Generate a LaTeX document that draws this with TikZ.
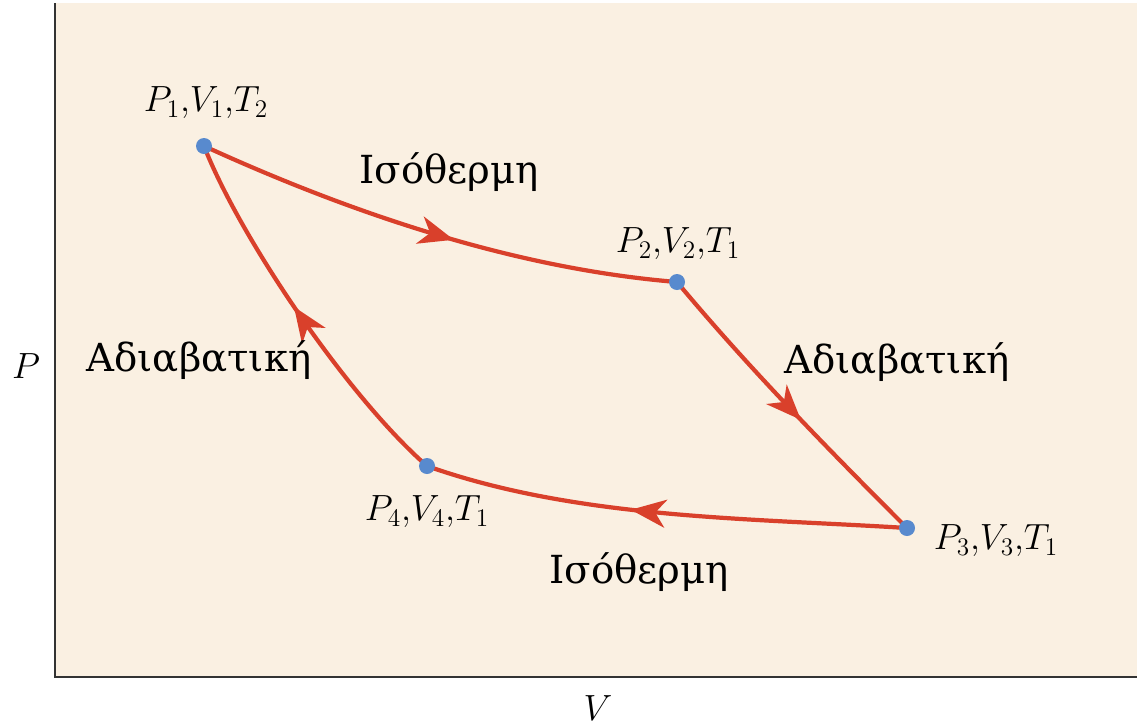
\documentclass[tikz,border=0pt]{standalone}
\usepackage{fontspec}
\setmainfont{DejaVu Serif}
\usetikzlibrary{arrows.meta, decorations.markings}
\definecolor{cyclered}{RGB}{217,64,43}
\definecolor{stateblue}{RGB}{88,138,206}
\definecolor{paper}{RGB}{250,240,226}

\begin{document}
\begin{tikzpicture}[x=0.02cm, y=-0.02cm,
  state/.style={circle, fill=stateblue, inner sep=0pt, minimum size=0.32cm},
  proc/.style={cyclered, line width=2.4pt, postaction={decorate},
    decoration={markings, mark=at position #1 with {\arrow{Stealth[length=20pt,width=16pt,inset=6pt]}}}},
  axis/.style={black!80, line width=1.6pt},
  statelbl/.style={font=\fontsize{22}{26}\selectfont},
  proclbl/.style={font=\fontsize{22}{26}\selectfont},
]
  \useasboundingbox (0,0) rectangle (1145,725);

  % diagram area and axes
  \coordinate (top) at (55,3);
  \coordinate (orig) at (55,677);
  \coordinate (right) at (1137,677);
  \fill[paper] (top) rectangle (right);
  \draw[axis] (top) -- (orig) -- (right);
  \node[statelbl] (plbl) at (26,366) {$P$};
  \node[statelbl] (vlbl) at (598,708) {$V$};

  % the four states
  \coordinate (p1) at (204,146);
  \coordinate (p2) at (677,282);
  \coordinate (p3) at (907,528);
  \coordinate (p4) at (427,466);

  % the cycle
  \draw[proc=0.54] (p1) .. controls +(151,69) and +(-159,-13) .. (p2);
  \draw[proc=0.55] (p2) .. controls +(75,90) and +(-70,-70) .. (p3);
  \draw[proc=0.57] (p3) .. controls +(-159,-10) and +(150,53) .. (p4);
  \draw[proc=0.53] (p4) .. controls +(-80,-70) and +(35,90) .. (p1);

  \node[state] (d1) at (p1) {};
  \node[state] (d2) at (p2) {};
  \node[state] (d3) at (p3) {};
  \node[state] (d4) at (p4) {};

  \node[statelbl] (l1) at (206,103) {$P_1{,}V_1{,}T_2$};
  \node[statelbl] (l2) at (678,244) {$P_2{,}V_2{,}T_1$};
  \node[statelbl] (l3) at (996,541) {$P_3{,}V_3{,}T_1$};
  \node[statelbl] (l4) at (427,512) {$P_4{,}V_4{,}T_1$};

  \node[proclbl] (iso1) at (449,172) {Ισόθερμη};
  \node[proclbl] (adi1) at (897,362) {Αδιαβατική};
  \node[proclbl] (iso2) at (639,572) {Ισόθερμη};
  \node[proclbl] (adi2) at (199,360) {Αδιαβατική};
\end{tikzpicture}
\end{document}
